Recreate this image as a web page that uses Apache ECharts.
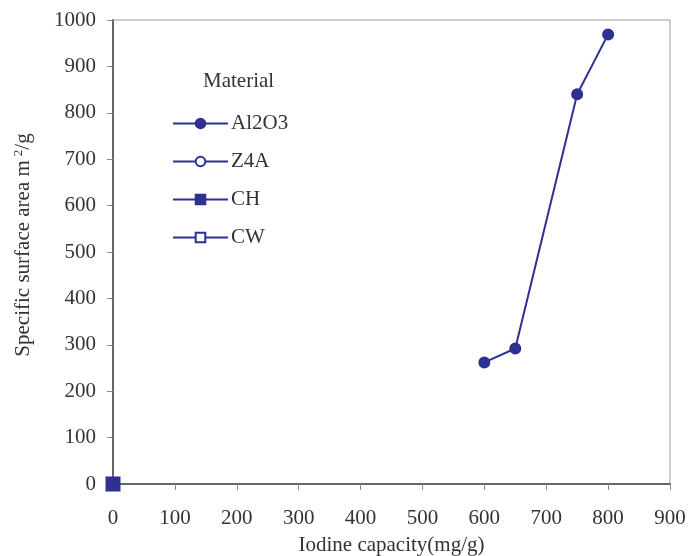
<!DOCTYPE html>
<html><head><meta charset="utf-8">
<script src="https://cdn.jsdelivr.net/npm/echarts@6/dist/echarts.min.js"></script>
<style>html,body{margin:0;padding:0;background:#fff}#c{width:689px;height:556px}</style>
</head><body><div id="c"></div>
<script>
const al2o3 = [[600, 262], [650, 292], [750, 840], [800, 969]];
const z4a = [];
const ch = [[0, 0]];
const cw = [];
const seriesNames = ['Al2O3', 'Z4A', 'CH', 'CW'];
const symbols = ['circle', 'emptyCircle', 'rect', 'emptyRect'];
const symbolSizes = [10, 9, 13, 12];
const dataSets = [al2o3, z4a, ch, cw];
const col = '#2E3192';
const ff = '"Liberation Serif", "DejaVu Serif", serif';
const fs = 21;

const chart = echarts.init(document.getElementById('c'), null, {renderer: 'canvas'});
chart.setOption({
  animation: false,
  backgroundColor: '#fff',
  textStyle: {fontFamily: ff},
  title: {text: 'Material', left: 198, top: 66, textStyle: {fontFamily: ff, fontSize: fs, fontWeight: 'normal', color: '#333'}},
  legend: {
    orient: 'vertical', left: 167, top: 108, itemWidth: 55, itemHeight: 12, itemGap: 17,
    data: seriesNames,
    textStyle: {fontFamily: ff, fontSize: fs, color: '#333', padding: [0, 0, 0, -2]},
  },
  grid: {left: 113, right: 19, top: 20, bottom: 72, show: true, borderColor: '#9a9a9a', borderWidth: 1, outerBoundsMode: 'none', containLabel: false},
  xAxis: {
    type: 'value', min: 0, max: 900, interval: 100,
    name: 'Iodine capacity(mg/g)', nameLocation: 'middle', nameGap: 51,
    nameTextStyle: {fontFamily: ff, fontSize: fs, color: '#333'},
    axisLine: {show: true, lineStyle: {color: '#666', width: 2}},
    axisTick: {show: true, inside: false, length: 6, lineStyle: {color: '#888'}},
    axisLabel: {fontFamily: ff, fontSize: fs, color: '#333', margin: 24},
    splitLine: {show: false}
  },
  yAxis: {
    type: 'value', min: 0, max: 1000, interval: 100,
    name: '{a|Specific surface area m}{s|2}{a|/g}', nameLocation: 'middle', nameGap: 79,
    nameTextStyle: {fontFamily: ff, fontSize: fs, color: '#333', padding: [0, 0, 0, 14], rich: {a: {fontFamily: ff, fontSize: fs, color: '#333'}, s: {fontFamily: ff, fontSize: 13, color: '#333', verticalAlign: 'top', padding: [0, 0, 9, 4]}}},
    axisLine: {show: true, lineStyle: {color: '#666', width: 2}},
    axisTick: {show: true, inside: false, length: 6, lineStyle: {color: '#888'}},
    axisLabel: {fontFamily: ff, fontSize: fs, color: '#333', margin: 17, formatter: v => String(v)},
    splitLine: {show: false}
  },
  series: seriesNames.map((n, i) => ({
    name: n, type: 'line', data: dataSets[i], symbol: symbols[i], symbolSize: symbolSizes[i],
    showAllSymbol: true, clip: false,
    lineStyle: {color: col, width: 2}, itemStyle: {color: col, borderColor: col, borderWidth: 2},
    z: 10 - i
  }))
});
</script></body></html>
